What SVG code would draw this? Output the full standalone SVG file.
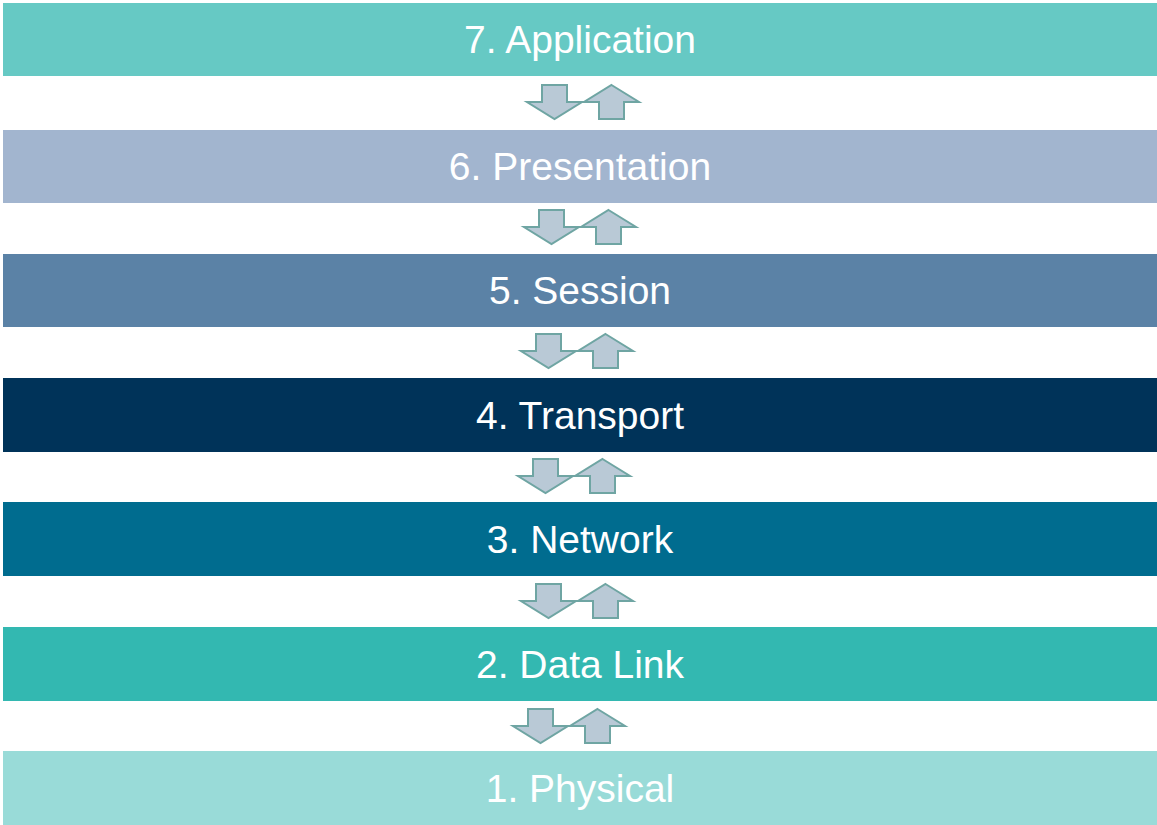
<svg xmlns="http://www.w3.org/2000/svg" width="1157" height="825" viewBox="0 0 1157 825">
  <style>
    .bar { stroke: none; }
    .lbl { font-family: "Liberation Sans", Arial, sans-serif; font-size: 39px; fill: #ffffff; text-anchor: middle; }
    .arr { fill: #b9c9d6; stroke: #6fa5a3; stroke-width: 2; stroke-linejoin: miter; }
  </style>
  <defs>
    <!-- arrow shapes, origin at top-left of a 55x34 box -->
    <path id="down" d="M15,0 H40 V17 H55 L27.5,34 L0,17 H15 Z"/>
    <path id="up" d="M27.5,0 L55,17 H40 V34 H15 V17 H0 Z"/>
  </defs>

  <g id="layer7"><rect class="bar" x="3" y="3" width="1154" height="73" fill="#66c9c4"/><text class="lbl" x="580" y="53">7. Application</text></g>
  <g id="layer6"><rect class="bar" x="3" y="130" width="1154" height="73" fill="#a2b5cf"/><text class="lbl" x="580" y="180">6. Presentation</text></g>
  <g id="layer5"><rect class="bar" x="3" y="254" width="1154" height="73" fill="#5b82a6"/><text class="lbl" x="580" y="304">5. Session</text></g>
  <g id="layer4"><rect class="bar" x="3" y="378" width="1154" height="74" fill="#003359"/><text class="lbl" x="580" y="429">4. Transport</text></g>
  <g id="layer3"><rect class="bar" x="3" y="502" width="1154" height="74" fill="#006c8f"/><text class="lbl" x="580" y="553">3. Network</text></g>
  <g id="layer2"><rect class="bar" x="3" y="627" width="1154" height="74" fill="#33b8b1"/><text class="lbl" x="580" y="678">2. Data Link</text></g>
  <g id="layer1"><rect class="bar" x="3" y="751" width="1154" height="74" fill="#99dbd8"/><text class="lbl" x="580" y="802">1. Physical</text></g>

  <g id="connectors">
    <use href="#down" class="arr" x="527" y="85"/><use href="#up" class="arr" x="584" y="85"/>
    <use href="#down" class="arr" x="524" y="210"/><use href="#up" class="arr" x="581" y="210"/>
    <use href="#down" class="arr" x="521" y="334"/><use href="#up" class="arr" x="578" y="334"/>
    <use href="#down" class="arr" x="518" y="459"/><use href="#up" class="arr" x="575" y="459"/>
    <use href="#down" class="arr" x="521" y="584"/><use href="#up" class="arr" x="578" y="584"/>
    <use href="#down" class="arr" x="513" y="709"/><use href="#up" class="arr" x="570" y="709"/>
  </g>
</svg>
